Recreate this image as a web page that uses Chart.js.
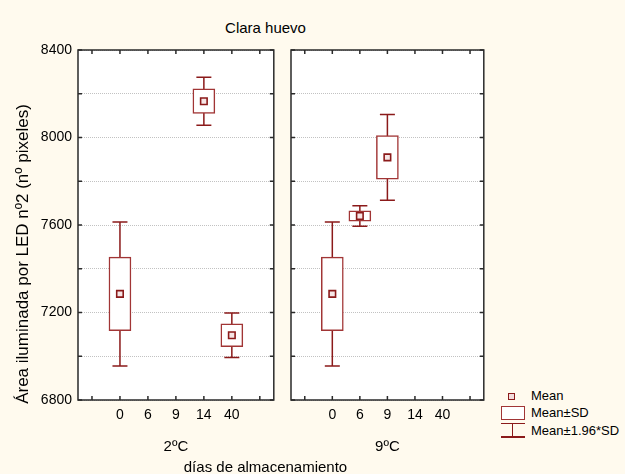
<!DOCTYPE html>
<html lang="es">
<head>
<meta charset="UTF-8">
<title>Clara huevo</title>
<script src="https://cdn.jsdelivr.net/npm/chart.js@4.4.0/dist/chart.umd.min.js"></script>
<style>
  * { box-sizing: border-box; margin: 0; padding: 0; }
  body { width: 625px; height: 474px; background: #fffaee; position: relative; overflow: hidden;
         font-family: 'Liberation Sans', Arial, sans-serif; color: #000; }
  canvas { position: absolute; top: 0; }
  #c2 { left: 0; }
  #c9 { left: 280px; }
  .t { position: absolute; white-space: nowrap; }
  #title { left: 265.5px; top: 19px; font-size: 15px; line-height: 18px; transform: translateX(-50%); }
  #xlab  { left: 265.5px; top: 458px; font-size: 15px; line-height: 18px; transform: translateX(-50%); }
  .leg { position: absolute; left: 531px; font-size: 13px; line-height: 16px; }
  .mk  { position: absolute; left: 508px; top: 393px; width: 6.5px; height: 6.5px;
         border: 1.5px solid #8b1a1a; background: #f2dcdc; }
  .bx  { position: absolute; left: 501px; top: 406px; width: 23.5px; height: 13.5px;
         border: 1.5px solid #a13535; background: #fff; }
  .wh  { position: absolute; left: 501px; top: 422.5px; width: 23.5px; height: 15px; }
  .wh i { position: absolute; background: #8b1a1a; }
</style>
</head>
<body>
<div class="t" id="title">Clara huevo</div>
<canvas id="c2" width="280" height="474"></canvas>
<canvas id="c9" width="210" height="474"></canvas>
<div class="t" id="xlab">días de almacenamiento</div>

<div class="mk"></div><div class="leg" style="top:388px">Mean</div>
<div class="bx"></div><div class="leg" style="top:405px">Mean±SD</div>
<div class="wh"><i style="left:0;top:0;width:23.5px;height:1.5px"></i><i style="left:10.5px;top:0;width:1.5px;height:15px"></i><i style="left:0;top:13.5px;width:23.5px;height:1.5px"></i></div>
<div class="leg" style="top:423px">Mean±1.96*SD</div>

<script>
// ── datos ─────────────────────────────────────────────────────────────────────
const days   = ['', '0', '6', '9', '14', '40', '']
const yLabs  = [6800, 7200, 7600, 8000, 8400]
const mean2  = [null, 7285, null, null, 8166, 7096, null]
const sd2    = [null, 168,  null, null, 56,   52,   null]
const mean9  = [null, 7285, 7641, 7909, null, null, null]
const sd9    = [null, 168,  24,   100,  null, null, null]
const K = 1.96

const RED  = '#8b1a1a'
const FONT = "'Liberation Sans', Arial, sans-serif"
Chart.defaults.font.family = FONT
Chart.defaults.color = '#000'

// caja blanca, bigotes, marco y marcas hacia dentro
function panelPlugin(mean, sd, yTitle) {
  return {
    id: 'panel',
    beforeDraw(chart) {
      const { ctx, chartArea: a } = chart
      ctx.save()
      ctx.fillStyle = '#fff'
      ctx.fillRect(a.left, a.top, a.width, a.height)
      ctx.restore()
    },
    beforeDatasetsDraw(chart) {
      const { ctx, scales: { x, y } } = chart
      ctx.save()
      ctx.strokeStyle = RED
      ctx.lineWidth = 1.5
      mean.forEach((m, i) => {
        if (m == null) return
        const px  = x.getPixelForValue(i)
        const top = y.getPixelForValue(m + K * sd[i])
        const bot = y.getPixelForValue(m - K * sd[i])
        ctx.beginPath()
        ctx.moveTo(px, top); ctx.lineTo(px, bot)
        ctx.moveTo(px - 7.5, top); ctx.lineTo(px + 7.5, top)
        ctx.moveTo(px - 7.5, bot); ctx.lineTo(px + 7.5, bot)
        ctx.stroke()
      })
      ctx.restore()
    },
    afterDraw(chart) {
      const { ctx, chartArea: a, scales: { x, y } } = chart
      ctx.save()
      ctx.strokeStyle = '#2a2a2a'
      ctx.lineWidth = 1.5
      ctx.beginPath()
      y.ticks.forEach(t => {
        const py = y.getPixelForValue(t.value)
        ctx.moveTo(a.left, py); ctx.lineTo(a.left + 4, py)
        ctx.moveTo(a.right, py); ctx.lineTo(a.right - 4, py)
      })
      days.forEach((d, i) => {
        const px = x.getPixelForValue(i)
        ctx.moveTo(px, a.top); ctx.lineTo(px, a.top + 4)
        ctx.moveTo(px, a.bottom); ctx.lineTo(px, a.bottom - 4)
      })
      ctx.stroke()
      ctx.strokeRect(a.left, a.top, a.width, a.height)
      if (yTitle) {
        ctx.translate(23, 254)
        ctx.rotate(-Math.PI / 2)
        ctx.fillStyle = '#000'
        ctx.font = '17px ' + FONT
        ctx.textAlign = 'center'
        ctx.textBaseline = 'middle'
        ctx.fillText(yTitle, 0, 0)
      }
      ctx.restore()
    }
  }
}

function makePanel(id, mean, sd, label, yWidth, padRight, showY) {
  return new Chart(document.getElementById(id), {
    data: {
      labels: days,
      datasets: [
        { type: 'line', data: mean, showLine: false, order: 0,
          pointStyle: 'rect', pointRadius: 4.6, pointBorderWidth: 1.6,
          pointBorderColor: RED, pointBackgroundColor: '#f6e6e6' },
        { type: 'bar', order: 1,
          data: mean.map((m, i) => m == null ? null : [m - sd[i], m + sd[i]]),
          backgroundColor: '#fff', borderColor: '#a13535', borderWidth: 1.5,
          borderSkipped: false, barThickness: 22 },
      ]
    },
    options: {
      responsive: false, animation: false,
      layout: { padding: { top: 50, right: padRight, left: 0, bottom: 0 } },
      plugins: { legend: { display: false }, tooltip: { enabled: false } },
      scales: {
        x: {
          grid: { display: false, drawTicks: false }, border: { display: false },
          ticks: { font: { size: 14 }, padding: 7, maxRotation: 0, autoSkip: false },
          title: { display: true, text: label, font: { size: 15 }, padding: { top: 0, bottom: 18 } },
          afterFit: s => { s.height = 74 }
        },
        y: {
          min: 6800, max: 8400,
          grid: { color: '#c2c2c2', lineWidth: 1, drawTicks: false },
          border: { display: false, dash: [1, 1] },
          ticks: { stepSize: 200, font: { size: 14 }, padding: 6,
                   callback: v => showY && yLabs.includes(v) ? v : '' },
          afterFit: s => { s.width = yWidth }
        }
      }
    },
    plugins: [panelPlugin(mean, sd, showY ? 'Área iluminada por LED nº2 (nº pixeles)' : null)]
  })
}

makePanel('c2', mean2, sd2, '2ºC', 78, 5, true)
makePanel('c9', mean9, sd9, '9ºC', 11, 2, false)
</script>
</body>
</html>
